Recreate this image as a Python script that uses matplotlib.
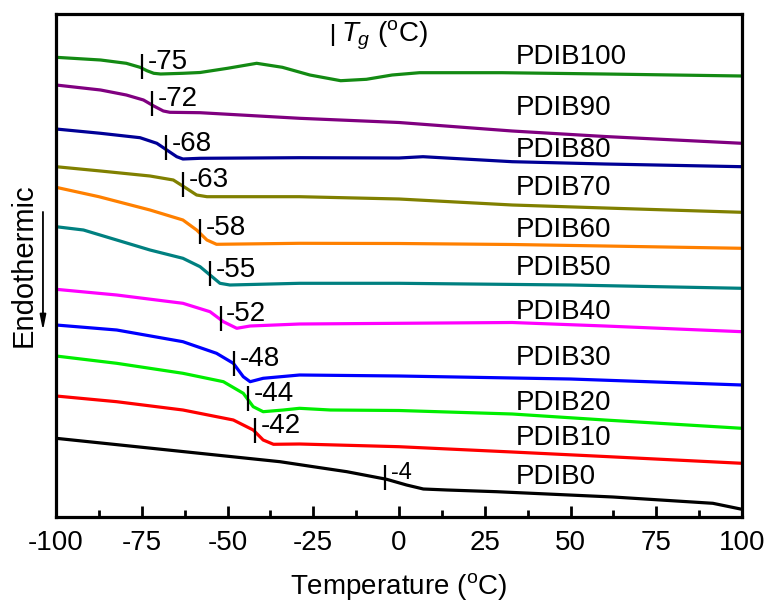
import numpy as np
import matplotlib
matplotlib.use('Agg')
import matplotlib.pyplot as plt

plt.rcParams['font.family'] = ['Liberation Sans', 'DejaVu Sans']
plt.rcParams['mathtext.fontset'] = 'custom'
plt.rcParams['mathtext.rm'] = 'Liberation Sans'
plt.rcParams['mathtext.it'] = 'Liberation Sans:italic'
plt.rcParams['axes.unicode_minus'] = False

# === DATA === #
# heat flow offsets in arbitrary units, larger = further down (endothermic)
samples = ['PDIB100', 'PDIB90', 'PDIB80', 'PDIB70', 'PDIB60', 'PDIB50',
           'PDIB40', 'PDIB30', 'PDIB20', 'PDIB10', 'PDIB0']
colors = ['#138a13', '#800080', '#000096', '#808000', '#ff8000', '#008080',
          '#ff00ff', '#0000ff', '#00ee00', '#ff0000', '#000000']
tg_values = [-75, -72, -68, -63, -58, -55, -52, -48, -44, -42, -4]

t_pdib100 = [-100, -87, -79.5, -75.5, -73.5, -71.5, -69.5, -63, -58, -50, -41.5,
             -34, -26, -17, -9.5, -2, 6, 30, 60, 100]
h_pdib100 = [57.3, 60, 63.3, 67.3, 70.7, 73.3, 74, 73.3, 72.5, 68.3, 63.3,
             67.3, 75, 80.7, 79.3, 75, 72.7, 72.7, 74, 76]

t_pdib90 = [-100, -87, -79.5, -74.5, -71.5, -68.7, -66.8, -58, -29, 0, 33, 60, 100]
h_pdib90 = [85, 90, 95, 100, 106, 111, 112.3, 112.7, 118.3, 122.5, 131, 136.5, 143.3]

t_pdib80 = [-100, -87, -75.5, -70.6, -67.7, -64.8, -63, -58, -29, 0, 7, 33, 60, 100]
h_pdib80 = [129, 133.3, 137.7, 143.3, 150, 156.7, 159, 158.3, 157.7, 158, 156.7, 161.7, 164, 166.7]

t_pdib70 = [-100, -87, -72.6, -65.8, -62, -59, -56, -29, 0, 33, 60, 100]
h_pdib70 = [166.7, 171, 176, 180, 188.3, 195, 196.7, 196.7, 199, 205, 208, 212.3]

t_pdib60 = [-100, -87.5, -72.6, -63, -59, -56, -53.2, -29, 0, 33, 60, 100]
h_pdib60 = [187.3, 196.7, 210, 220, 230, 240, 244.3, 243.3, 243.5, 244.5, 246, 248.3]

t_pdib50 = [-100, -92, -82.3, -72.6, -63, -58, -55.1, -52.2, -49.3, -29, 0, 50, 100]
h_pdib50 = [226.7, 230, 240, 250, 258.3, 266.7, 275, 283.3, 285, 283.3, 283.3, 285, 288.3]

t_pdib40 = [-100, -82.3, -63, -55.1, -51.2, -47.3, -43.4, -29, 0, 33, 60, 100]
h_pdib40 = [289.3, 295, 303.3, 311.7, 321.7, 328.3, 326, 324, 323.3, 322.5, 326, 331.7]

t_pdib30 = [-100, -82.3, -63, -53.2, -48.3, -45.4, -43.4, -39.6, -29, 0, 50, 100]
h_pdib30 = [325, 330, 341.7, 353.3, 363.3, 376.7, 381.7, 378.3, 375, 376, 379, 385]

t_pdib20 = [-100, -82.3, -63, -51.2, -45.4, -42.5, -39.6, -33.7, -29, -20, 0, 33, 60, 100]
h_pdib20 = [356, 363.3, 373.3, 381.7, 393.3, 406.7, 411.7, 410, 408.3, 410, 410.5, 414, 420, 428.3]

t_pdib10 = [-100, -82.3, -63, -48.3, -42.5, -39.6, -36.6, -29, 0, 33, 60, 100]
h_pdib10 = [396, 401.7, 410, 420, 430, 440, 444.3, 444, 446.7, 452, 456.5, 463.3]

t_pdib0 = [-100, -34.7, -25, -15.2, -3.6, 2.2, 7.1, 14, 28.5, 62.4, 91.5, 100]
h_pdib0 = [438.3, 461.7, 466.7, 471.7, 479.3, 485, 489, 490, 491.7, 497, 503.3, 509.3]

temps = [t_pdib100, t_pdib90, t_pdib80, t_pdib70, t_pdib60, t_pdib50,
         t_pdib40, t_pdib30, t_pdib20, t_pdib10, t_pdib0]
heats = [h_pdib100, h_pdib90, h_pdib80, h_pdib70, h_pdib60, h_pdib50,
         h_pdib40, h_pdib30, h_pdib20, h_pdib10, h_pdib0]

# label y positions next to the curves (same units)
label_y = [56.7, 108.3, 150, 188.3, 230, 268.3, 311.7, 358.3, 403.3, 438.3, 476.7]

# === PLOTTING === #
fig = plt.figure(figsize=(7.69, 6.01), dpi=100)
ax = fig.add_axes([56/769, 1 - 517/601, 686/769, 503/601])

for t, h, c in zip(temps, heats, colors):
    ax.plot(t, h, '-', color=c, lw=2.3, solid_capstyle='round', solid_joinstyle='round')

for t, h, tg, name, ly in zip(temps, heats, tg_values, samples, label_y):
    yc = np.interp(tg, t, h) - 1.5
    ax.vlines(tg, yc - 12.5, yc + 12.5, color='k', lw=1.6)
    fs = 17 if tg == -4 else 20
    ax.annotate(str(tg), (tg, yc), xytext=(4, 3), textcoords='offset points',
                ha='left', va='center', fontsize=fs)
    ax.text(34, ly, name, ha='left', va='center', fontsize=20)

# Tg legend marker
ax.vlines(-19.2, 24, 46, color='k', lw=1.6)
ax.text(-17, 35, r'$T_g$ ($^{\mathrm{o}}$C)', ha='left', va='center', fontsize=20)

ax.set_xlim(-100, 100)
ax.set_ylim(517, 14)
ax.set_xticks(np.arange(-100, 101, 25))
ax.set_xticks(np.arange(-100, 101, 12.5), minor=True)
ax.set_yticks([])
ax.tick_params(axis='x', which='major', direction='in', length=8, width=2,
               labelsize=20, pad=9, top=False)
ax.tick_params(axis='x', which='minor', direction='in', length=5, width=2, top=False)
for s in ax.spines.values():
    s.set_linewidth(2.3)

ax.set_xlabel('Temperature ($^{\\mathrm{o}}$C)', fontsize=20, labelpad=11)
ax.set_ylabel('Endothermic', fontsize=21, labelpad=13)

ax.annotate('', xy=(-0.019, 0.365), xytext=(-0.019, 0.612), xycoords='axes fraction',
            arrowprops=dict(arrowstyle='-|>,head_length=0.9,head_width=0.18',
                            color='k', lw=1.3), annotation_clip=False)

fig.savefig('out.png', dpi=100)
